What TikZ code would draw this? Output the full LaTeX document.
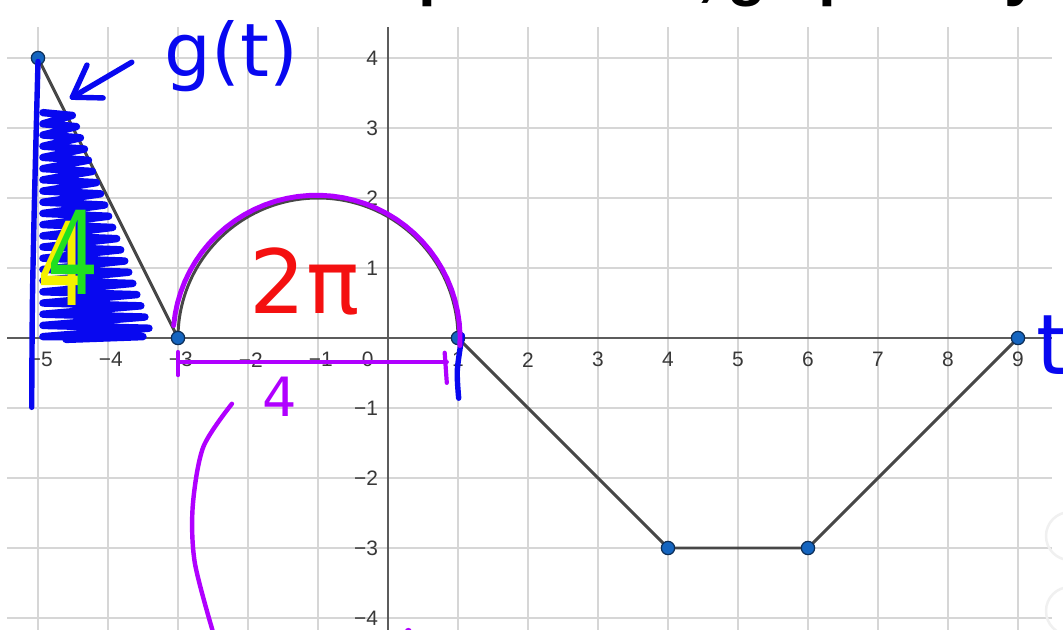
\documentclass[tikz,border=0pt]{standalone}
\usepackage{fontspec}
\setmainfont{Liberation Sans}
\newfontfamily\handfont{DejaVu Sans}

\definecolor{gridgray}{HTML}{D6D6D6}
\definecolor{axisgray}{HTML}{5C5C5C}
\definecolor{curvegray}{HTML}{474747}
\definecolor{ptblue}{HTML}{1565C0}
\definecolor{ptedge}{HTML}{0C2E58}
\definecolor{inkblue}{HTML}{0808F0}
\definecolor{inkpurple}{HTML}{B000FF}
\definecolor{inkred}{HTML}{F41010}
\definecolor{inkgreen}{HTML}{20E020}
\definecolor{inkyellow}{HTML}{F4F000}

\tikzset{
  gridline/.style={gridgray,line width=0.8pt},
  axisline/.style={axisgray,line width=0.8pt},
  curve/.style={curvegray,line width=1.2pt,line join=round},
  pt/.style={circle,fill=ptblue,draw=ptedge,line width=0.5pt,inner sep=0pt,minimum size=0.19cm},
  ticklbl/.style={text=black!78,font=\fontsize{8.5}{10}\selectfont,inner sep=1pt},
  ink/.style={line width=2.2pt,line cap=round,line join=round},
  hand/.style={font=\handfont\fontsize{#1}{#1}\selectfont,inner sep=0pt},
  titlefrag/.style={font=\bfseries\fontsize{26}{26}\selectfont,inner sep=0pt,anchor=base west}
}

\begin{document}
\begin{tikzpicture}[x=1cm,y=1cm]
  \fill[white] (-5.543,-4.157) rectangle (9.643,4.829);
  \useasboundingbox (-5.543,-4.157) rectangle (9.643,4.829);

  % title line, only its descenders are in view
  \foreach \x/\c in {0.43/p,4.42/{,},4.85/g,6.15/p,8.8/y}
    \node[titlefrag] at (\x,4.915) {\c};

  % grid and axes
  \foreach \x in {-5,...,9} \draw[gridline] (\x,-4.2) -- (\x,4.44);
  \foreach \y in {-4,...,4} \draw[gridline] (-5.44,\y) -- (9.49,\y);
  \draw[axisline] (-5.44,0) -- (9.49,0);
  \draw[axisline] (0,-4.2) -- (0,4.44);
  \foreach \x in {1,...,5} \node[ticklbl] at (-\x+0.04,-0.31) {−\x};
  \foreach \x in {1,...,9} \node[ticklbl] at (\x,-0.31) {\x};
  \node[ticklbl] at (-0.29,-0.31) {0};
  \foreach \y in {1,...,4}
  {
    \node[ticklbl,anchor=east] at (-0.1,\y) {\y};
    \node[ticklbl,anchor=east] at (-0.1,-\y) {−\y};
  }
  \draw[black!6,line width=1pt] (9.743,-2.829) circle (0.343);
  \draw[black!6,line width=1pt] (9.743,-3.9) circle (0.343);

  % g(t)
  \coordinate (p1) at (-5,4);
  \coordinate (p2) at (-3,0);
  \coordinate (p3) at (1,0);
  \coordinate (p4) at (4,-3);
  \coordinate (p5) at (6,-3);
  \coordinate (p6) at (9,0);
  \draw[curve] (p1) -- (p2) arc[start angle=180,end angle=0,radius=2] -- (p4) -- (p5) -- (p6);
  \foreach \n in {1,...,6} \node[pt] (dot\n) at (p\n) {};

  % blue notes
  \draw[ink,inkblue] plot[smooth] coordinates {(-5,3.95) (-5.05,2) (-5.08,0.5) (-5.09,-0.99)};
  \draw[inkblue,line width=3pt,line cap=round,line join=round] (-4.93,3.22)
    \foreach \yy in {3.22,3.06,...,0.1} { -- ({-3.35-0.36*\yy},{\yy-0.04}) -- (-4.93,{\yy-0.16}) }
    -- (-3.5,0.02) -- (-4.6,-0.02);
  \coordinate (tip) at (-4.51,3.44);
  \draw[ink,inkblue] (-3.66,3.94) -- (tip);
  \draw[ink,inkblue] (-4.3,3.9) -- (tip) -- (-4.07,3.43);
  \node[hand=30,text=inkblue] (gname) at (-2.24,4.02) {g(t)};
  \node[hand=34,text=inkblue,anchor=west] (tname) at (9.26,-0.1) {t};
  \draw[ink,inkblue] plot[smooth] coordinates {(1.06,0.04) (0.99,-0.46) (1.01,-0.86)};

  % areas
  \node[hand=47,text=inkyellow,xscale=0.7] (fouryel) at (-4.64,1.07) {4};
  \node[hand=47,text=inkgreen,xscale=0.7] (fourgrn) at (-4.49,1.23) {4};
  \node[hand=36,text=inkred] (twopi) at (-1.19,0.81) {2π};

  % purple notes
  \draw[ink,inkpurple,line width=2pt] plot[domain=175:-3,samples=40] ({-1.02+2.05*cos(\x)},{2.04*sin(\x)});
  \draw[ink,inkpurple,line width=1.7pt] (-3,-0.2) -- (-3,-0.53);
  \draw[ink,inkpurple,line width=1.7pt] (-3,-0.343) -- (0.84,-0.343);
  \draw[ink,inkpurple,line width=1.7pt] (0.81,-0.21) -- (0.84,-0.64);
  \node[hand=22,text=inkpurple] (diam) at (-1.54,-0.84) {4};
  \draw[ink,inkpurple,line width=1.8pt] plot[smooth] coordinates {(-2.23,-0.94) (-2.64,-1.56) (-2.79,-2.41) (-2.76,-3.21) (-2.5,-4.2)};
  \fill[inkpurple] (0.29,-4.19) circle (0.05);
\end{tikzpicture}
\end{document}
